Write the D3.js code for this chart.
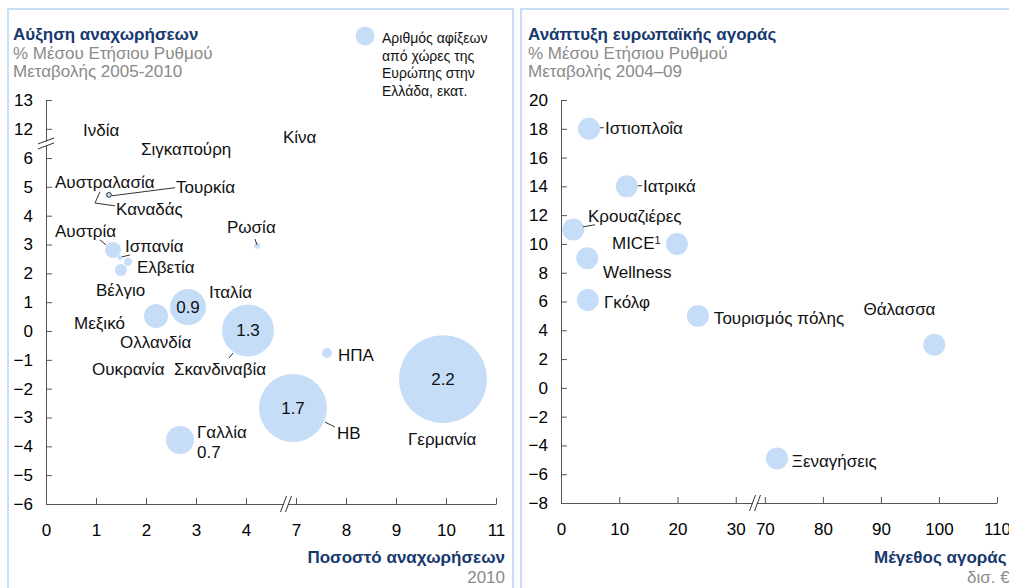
<!DOCTYPE html>
<html lang="el">
<head>
<meta charset="UTF-8">
<title>Αναχωρήσεις και ευρωπαϊκή αγορά</title>
<script src="https://d3js.org/d3.v7.min.js"></script>
<style>
  body { margin: 0; background: #fff; font-family: 'Liberation Sans', Arial, sans-serif; }
  .tick text { font-size: 17px; fill: #000; font-family: 'Liberation Sans', Arial, sans-serif; }
  .axis path, .axis line { stroke: #555; }
  .lbl { font-size: 17px; fill: #111; }
  .lead { stroke: #333; stroke-width: 1; fill: none; }
  .title { font-size: 17px; font-weight: bold; fill: #17396e; }
  .sub { font-size: 17px; fill: #8a8a8a; }
</style>
</head>
<body>
<script>
// ---- left panel: departures (share 2010 vs growth 2005-2010) ----
const depNames    = ["Γερμανία", "ΗΒ", "Σκανδιναβία", "Ιταλία", "Γαλλία", "Ολλανδία", "Αυστρία", "Βέλγιο", "Ελβετία", "Ισπανία", "ΗΠΑ", "Ρωσία", "Τουρκία"];
const depShare    = [9.94, 6.94, 4.04, 2.84, 2.68, 2.2, 1.34, 1.5, 1.64, 1.48, 7.62, 4.22, 1.26];
const depGrowth   = [-1.67, -2.67, 0.02, 0.83, -3.78, 0.52, 2.81, 2.12, 2.4, 2.54, -0.76, 2.96, 4.72];
const depArrivals = [2.2, 1.7, 1.3, 0.9, 0.7, 0.6, 0.4, 0.3, 0.2, 0.12, 0.25, 0.15, 0.12];
const depYTicks = [-6, -5, -4, -3, -2, -1, 0, 1, 2, 3, 4, 5, 6, 12, 13];
const depXTicks = [0, 1, 2, 3, 4, 7, 8, 9, 10, 11];

// ---- right panel: european market segments ----
const segNames  = ["Ιστιοπλοΐα", "Ιατρικά", "Κρουαζιέρες", "MICE", "Wellness", "Γκόλφ", "Τουρισμός πόλης", "Θάλασσα", "Ξεναγήσεις"];
const segSize   = [4.8, 11.3, 2.1, 19.9, 4.5, 4.6, 23.5, 99.2, 72.1];
const segGrowth = [18, 14, 11, 10, 9, 6.1, 5, 3, -4.9];
const segYTicks = d3.range(-8, 21, 2);
const segXTicks = [0, 10, 20, 30, 70, 80, 90, 100, 110];

// label placement (in data units of each panel)
const depLabels = [
  ["Ινδία", 0.74, 11.97], ["Σιγκαπούρη", 1.9, 6.32], ["Κίνα", 4.74, 11.73],
  ["Αυστραλασία", 0.18, 5.17], ["Τουρκία", 2.6, 5.0], ["Καναδάς", 1.4, 4.24],
  ["Ρωσία", 3.62, 3.61], ["Αυστρία", 0.18, 3.47], ["Ισπανία", 1.58, 2.95],
  ["Ελβετία", 1.82, 2.22], ["Βέλγιο", 1.0, 1.42], ["Ιταλία", 3.26, 1.35],
  ["Μεξικό", 0.56, 0.28], ["Ολλανδία", 1.48, -0.38], ["Ουκρανία", 0.92, -1.32],
  ["Σκανδιναβία", 2.56, -1.32], ["ΗΠΑ", 7.84, -0.83], ["ΗΒ", 7.82, -3.54],
  ["Γερμανία", 9.24, -3.75], ["Γαλλία", 3.02, -3.51], ["0.7", 3.02, -4.2]
];
const depLeaders = [
  [[1.32, 4.69], [2.58, 4.97]],
  [[1.08, 4.83], [0.98, 4.44], [1.38, 4.34]],
  [[4.18, 3.19], [4.22, 2.99]],
  [[1.08, 3.16], [1.2, 2.99]],
  [[1.52, 2.57], [1.68, 2.64]],
  [[3.66, -0.94], [3.74, -0.76]],
  [[7.58, -3.16], [7.78, -3.33]]
];
const segLabels = [
  ["Ιστιοπλοΐα", 7.55, 18.07], ["Ιατρικά", 14.07, 14.04], ["Κρουαζιέρες", 4.63, 11.95],
  ["MICE", 8.75, 10.08], ["Wellness", 7.2, 8.06], ["Γκόλφ", 7.38, 5.98],
  ["Τουρισμός πόλης", 26.24, 4.86], ["Θάλασσα", 87.0, 5.49], ["Ξεναγήσεις", 74.65, -5.07]
];
const segLeaders = [
  [[6.69, 18.07], [7.38, 18.07]],
  [[13.2, 14.04], [13.9, 14.04]],
  [[3.77, 11.19], [5.83, 11.33]]
];

const bubbleFill = "#c6ddf8";
const svg = d3.select("body").append("svg").attr("width", 1009).attr("height", 588);

// panel frames
svg.append("rect").attr("x", 8).attr("y", 9).attr("width", 505).attr("height", 600)
  .attr("fill", "none").attr("stroke", "#c9ddf4").attr("stroke-width", 2);
svg.append("rect").attr("x", 521).attr("y", 9).attr("width", 505).attr("height", 600)
  .attr("fill", "none").attr("stroke", "#c9ddf4").attr("stroke-width", 2);

function header(x, title, l1, l2) {
  svg.append("text").attr("class", "title").attr("x", x).attr("y", 40).text(title);
  svg.append("text").attr("class", "sub").attr("x", x).attr("y", 59).text(l1);
  svg.append("text").attr("class", "sub").attr("x", x).attr("y", 77).text(l2);
}
header(13, "Αύξηση αναχωρήσεων", "% Μέσου Ετήσιου Ρυθμού", "Μεταβολής 2005-2010");
header(528, "Ανάπτυξη ευρωπαϊκής αγοράς", "% Μέσου Ετήσιου Ρυθμού", "Μεταβολής 2004–09");

// scales
const x1 = d3.scaleLinear().domain([0, 4.8, 6.8, 11]).range([46, 286, 286, 496]);
const y1 = d3.scaleLinear().domain([-6, 6.5, 11.5, 13]).range([504, 143.6, 143.3, 100]);
const r1 = d3.scaleLinear().domain([0, 1]).range([0, 20]);
const x2 = d3.scaleLinear().domain([0, 33.3, 68.3, 110]).range([561, 755, 755, 997]);
const y2 = d3.scaleLinear().domain([-8, 20]).range([503, 100]);

function drawAxes(xs, ys, xt, yt) {
  const [x0] = xs.range();
  const yb = ys.range()[0];
  svg.append("g").attr("class", "axis").attr("transform", `translate(${x0},0)`)
    .call(d3.axisLeft(ys).tickValues(yt).tickSizeInner(-6).tickSizeOuter(0).tickPadding(13).tickFormat(d3.format("d")));
  svg.append("g").attr("class", "axis").attr("transform", `translate(0,${yb})`)
    .call(d3.axisBottom(xs).tickValues(xt).tickSizeInner(-6).tickSizeOuter(0).tickPadding(20).tickFormat(d3.format("d")));
}
drawAxes(x1, y1, depXTicks, depYTicks);
drawAxes(x2, y2, segXTicks, segYTicks);

// axis break marks
function xBreak(cx, y) {
  svg.append("rect").attr("x", cx - 2).attr("y", y - 2).attr("width", 4).attr("height", 4).attr("fill", "#fff");
  [-2.5, 2.5].forEach(o => svg.append("line")
    .attr("x1", cx + o - 3).attr("y1", y + 8).attr("x2", cx + o + 3).attr("y2", y - 8)
    .attr("stroke", "#333").attr("stroke-width", 1));
}
function yBreak(x, cy) {
  svg.append("rect").attr("x", x - 2).attr("y", cy - 2).attr("width", 4).attr("height", 4).attr("fill", "#fff");
  [-2.5, 2.5].forEach(o => svg.append("line")
    .attr("x1", x - 8).attr("y1", cy + o + 3).attr("x2", x + 8).attr("y2", cy + o - 3)
    .attr("stroke", "#333").attr("stroke-width", 1));
}
xBreak(x1(5.8), y1(-6));
yBreak(x1(0), y1(9));
xBreak(x2(50), y2(-8));

// left bubbles
const dep = depNames.map((n, i) => ({ name: n, x: depShare[i], y: depGrowth[i], v: depArrivals[i] }));
svg.append("g").selectAll("circle").data(dep).join("circle")
  .attr("cx", d => x1(d.x)).attr("cy", d => y1(d.y)).attr("r", d => r1(d.v))
  .attr("fill", bubbleFill)
  .attr("stroke", d => d.name === "Τουρκία" ? "#333" : "none").attr("stroke-width", 1);
svg.append("g").selectAll("text").data(dep.filter(d => d.v >= 0.9)).join("text")
  .attr("class", "lbl").attr("text-anchor", "middle").attr("dy", "0.35em")
  .attr("x", d => x1(d.x)).attr("y", d => y1(d.y)).text(d => d.v.toFixed(1));

// right bubbles
const seg = segNames.map((n, i) => ({ name: n, x: segSize[i], y: segGrowth[i] }));
svg.append("g").selectAll("circle").data(seg).join("circle")
  .attr("cx", d => x2(d.x)).attr("cy", d => y2(d.y)).attr("r", 11).attr("fill", bubbleFill);

// labels and leader lines
function labels(list, xs, ys) {
  list.forEach(([t, x, y]) => {
    const el = svg.append("text").attr("class", "lbl").attr("x", xs(x)).attr("y", ys(y)).attr("dy", "0.35em").text(t);
    if (t === "MICE") el.append("tspan").attr("dy", "-0.45em").attr("font-size", "11px").text("1");
  });
}
function leaders(list, xs, ys) {
  const line = d3.line().x(p => xs(p[0])).y(p => ys(p[1]));
  list.forEach(pts => svg.append("path").attr("class", "lead").attr("d", line(pts)));
}
labels(depLabels, x1, y1);
leaders(depLeaders, x1, y1);
labels(segLabels, x2, y2);
leaders(segLeaders, x2, y2);

// legend
svg.append("circle").attr("cx", 365).attr("cy", 36).attr("r", 9.5).attr("fill", bubbleFill);
["Αριθμός αφίξεων", "από χώρες της", "Ευρώπης στην", "Ελλάδα, εκατ."].forEach((t, i) =>
  svg.append("text").attr("x", 382).attr("y", 43 + i * 17.5).attr("font-size", "14px").attr("fill", "#111").text(t));

// axis titles
svg.append("text").attr("class", "title").attr("text-anchor", "end").attr("x", 505).attr("y", 563).text("Ποσοστό αναχωρήσεων");
svg.append("text").attr("class", "sub").attr("text-anchor", "end").attr("x", 505).attr("y", 583).text("2010");
svg.append("text").attr("class", "title").attr("x", 874).attr("y", 563).text("Μέγεθος αγοράς");
svg.append("text").attr("class", "sub").attr("x", 967).attr("y", 583).text("δισ. €");
</script>
</body>
</html>
